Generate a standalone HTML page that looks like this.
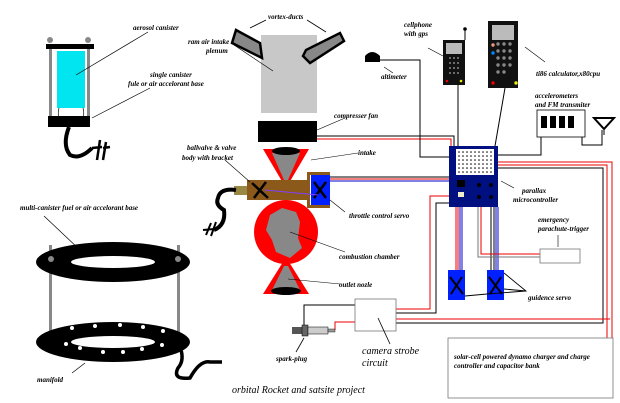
<!DOCTYPE html>
<html><head><meta charset="utf-8"><style>
html,body{margin:0;padding:0;background:#fff;}
svg{display:block}
text{font-family:"Liberation Serif",serif;font-style:italic;font-weight:bold;font-size:7px;fill:#000}
</style></head><body>
<svg width="620" height="403" viewBox="0 0 620 403" xmlns="http://www.w3.org/2000/svg">
<rect width="620" height="403" fill="#fff"/>
<!-- aerosol canister -->
<rect x="49" y="46" width="3" height="80" fill="#888"/>
<rect x="87" y="46" width="3" height="80" fill="#888"/>
<circle cx="50" cy="40" r="3" fill="#888"/><circle cx="88" cy="40" r="3" fill="#888"/>
<rect x="46" y="44" width="48" height="5" fill="#000"/>
<rect x="57" y="51" width="28" height="57" fill="#00e5f0"/>
<path d="M59 108 Q57 115 60 118 M83 108 Q85 115 82 118" stroke="#000" stroke-width="0.7" fill="none"/>
<rect x="48" y="116" width="42" height="11" fill="#000"/>
<path d="M69 127 Q62 145 70 155 Q80 160 92 148" stroke="#000" stroke-width="4" fill="none"/>
<path d="M92 148 L102 147 M100 140 L97 160 M106 142 L103 160 M103 148 L110 147" stroke="#000" stroke-width="2.5" fill="none"/>
<line x1="92" y1="118" x2="150" y2="88" stroke="#000" stroke-width="0.7"/>
<line x1="76" y1="75" x2="148" y2="32" stroke="#000" stroke-width="0.7"/>
<text x="133" y="30">aerosol canister</text>
<text x="150" y="77">single canister</text>
<text x="128" y="86">fule or air accelorant base</text>
<!-- rings -->
<rect x="49" y="245" width="3" height="95" fill="#888"/>
<rect x="177" y="245" width="3" height="95" fill="#888"/>
<ellipse cx="113" cy="262" rx="77" ry="20" fill="#000"/>
<ellipse cx="113" cy="262" rx="42" ry="6" fill="#fff"/>
<circle cx="51" cy="259" r="3" fill="#888"/><circle cx="178" cy="259" r="3" fill="#888"/>
<ellipse cx="113" cy="342" rx="77" ry="20" fill="#000"/>
<ellipse cx="113" cy="342" rx="42" ry="6" fill="#fff"/>
<g fill="#fff"><circle cx="72" cy="328" r="2"/><circle cx="95" cy="326" r="2"/><circle cx="120" cy="325" r="2"/><circle cx="143" cy="327" r="2"/><circle cx="163" cy="331" r="2"/><circle cx="162" cy="345" r="2"/><circle cx="142" cy="349" r="2"/><circle cx="123" cy="352" r="2"/><circle cx="103" cy="352" r="2"/><circle cx="80" cy="348" r="2"/><circle cx="66" cy="344" r="2"/></g>
<path d="M180 347 Q185 360 178 368 Q172 380 190 378 Q200 360 210 362 L222 362" stroke="#000" stroke-width="3.5" fill="none"/>
<line x1="44" y1="216" x2="80" y2="250" stroke="#000" stroke-width="0.7"/>
<line x1="72" y1="373" x2="85" y2="363" stroke="#000" stroke-width="0.7"/>
<text x="20" y="210">multi-canister fuel or air accelorant base</text>
<text x="37" y="382">manifold</text>
<!-- plenum -->
<rect x="261" y="35" width="56" height="78" fill="#c8c8c8"/>
<polygon points="236,30 260,43 262,58 232,43" fill="#888" stroke="#000" stroke-width="2.5"/>
<polygon points="303,56 306,50 340,33 344,41 310,63" fill="#888" stroke="#000" stroke-width="2.5"/>
<line x1="250" y1="28" x2="266" y2="20" stroke="#000" stroke-width="0.8"/>
<line x1="307" y1="20" x2="326" y2="32" stroke="#000" stroke-width="0.8"/>
<line x1="234" y1="45" x2="273" y2="71" stroke="#000" stroke-width="0.6"/>
<text x="268" y="19">vortex-ducts</text>
<text x="188" y="44">ram air intake</text>
<text x="206" y="53">plenum</text>
<rect x="258" y="121" width="59" height="21" fill="#000"/>
<line x1="317" y1="130" x2="345" y2="118" stroke="#000" stroke-width="0.6"/>
<text x="334" y="118">compresser fan</text>
<!-- engine -->
<polygon points="263,149 309,149 289,183 283,183" fill="#f00"/>
<polygon points="272,153 300,153 288,180 284,180" fill="#888"/>
<ellipse cx="286" cy="151" rx="14" ry="4" fill="#000"/>
<circle cx="286" cy="232" r="32" fill="#f00"/>
<path d="M270 215 L282 208 L296 212 L300 222 L298 238 L302 248 L290 258 L276 252 L272 240 L266 230 Z" fill="#888"/>
<polygon points="283,262 289,262 309,294 263,294" fill="#f00"/>
<polygon points="284,266 288,266 300,290 272,290" fill="#888"/>
<ellipse cx="286" cy="291" rx="15" ry="4" fill="#000"/>
<rect x="234" y="186" width="14" height="9" fill="#998844"/>
<rect x="247" y="180" width="63" height="20" fill="#8b5a1a"/>
<path d="M307 172 L330 172 L330 175 L310 175 L310 205 L330 205 L330 208 L307 208 Z" fill="#8b5a1a"/>
<rect x="311" y="175" width="19" height="30" fill="#0020ff"/>
<path d="M252 183 L268 198 M266 182 L254 198 M314 182 L326 198 M326 182 L314 198" stroke="#000" stroke-width="2.5"/>
<line x1="265" y1="190" x2="318" y2="195" stroke="#8040ff" stroke-width="1"/>
<path d="M236 190 Q220 188 218 198 Q215 205 224 210 Q226 225 214 230" stroke="#000" stroke-width="4" fill="none"/>
<path d="M206 235 L211 223 M203 230 L214 229 M211 236 L216 222" stroke="#000" stroke-width="2" fill="none"/>
<line x1="225" y1="160" x2="250" y2="182" stroke="#000" stroke-width="0.6"/>
<text x="187" y="150">ballvalve &amp; valve</text>
<text x="182" y="160">body with bracket</text>
<line x1="311" y1="160" x2="358" y2="153" stroke="#000" stroke-width="0.6"/>
<text x="358" y="155">intake</text>
<line x1="330" y1="200" x2="345" y2="212" stroke="#000" stroke-width="0.6"/>
<text x="349" y="218">throttle control servo</text>
<line x1="290" y1="232" x2="345" y2="252" stroke="#000" stroke-width="0.6"/>
<text x="339" y="259">combustion chamber</text>
<line x1="288" y1="279" x2="340" y2="284" stroke="#000" stroke-width="0.6"/>
<text x="339" y="287">outlet nozle</text>
<!-- wiring -->
<g fill="none" stroke-width="1">
<path d="M317 136 L454 136 L454 146" stroke="#000"/>
<path d="M317 139 L451 139 L451 146" stroke="#e00"/>
<path d="M330 177 L449 177" stroke="#000"/>
<path d="M330 179 L449 179" stroke="#e00"/>
<path d="M330 181 L449 181" stroke="#00c"/>
<path d="M380 60 L420 60 L420 157 L449 157" stroke="#000"/>
<path d="M458 85 L458 146" stroke="#000"/>
<path d="M505 88 L495 146" stroke="#000"/>
<path d="M498 155 L541 155 L541 137" stroke="#000"/>
<path d="M582 137 L582 145 L602 145 L602 130" stroke="#000"/>
<path d="M498 165 L607 165 L607 398" stroke="#e00"/>
<path d="M498 162 L612 162 L612 398" stroke="#e00"/>
<path d="M498 168 L603 168 L603 323 L396 323" stroke="#000"/>
<path d="M396 319 L610 319" stroke="#e00"/>
<path d="M449 196 L430 196 L430 309 L396 309" stroke="#e00"/>
<path d="M449 203 L436 203 L436 313 L396 313" stroke="#000"/>
<path d="M456 207 L456 270 M458 207 L458 270" stroke="#e00"/>
<path d="M460 207 L460 270 M462 207 L462 270" stroke="#00c"/>
<path d="M491 207 L491 270 M494 207 L494 270" stroke="#000"/>
<path d="M496 207 L496 270 M498 207 L498 270" stroke="#00c"/>
<path d="M478 207 L478 257 L540 257" stroke="#777"/>
<path d="M481 207 L481 254 L540 254" stroke="#e00"/>
<path d="M355 305 L304 305 L304 325" stroke="#000"/>
<path d="M355 322 L335 322 L335 330" stroke="#e00"/>
</g>
<!-- altimeter -->
<path d="M365 62 L365 56 Q372 48 380 56 L380 62 Z" fill="#000"/>
<line x1="384" y1="67" x2="393" y2="73" stroke="#000" stroke-width="0.6"/>
<text x="381" y="79">altimeter</text>
<!-- cellphone -->
<rect x="443" y="40" width="22" height="45" fill="#111"/>
<rect x="446" y="43" width="16" height="11" fill="#bbb"/>
<line x1="465" y1="40" x2="465" y2="30" stroke="#000"/><circle cx="465" cy="29" r="1.8" fill="#000"/>
<g fill="#888"><circle cx="450" cy="58" r="1"/><circle cx="454" cy="58" r="1"/><circle cx="458" cy="58" r="1"/><circle cx="450" cy="63" r="1"/><circle cx="454" cy="63" r="1"/><circle cx="458" cy="63" r="1"/><circle cx="450" cy="68" r="1"/><circle cx="454" cy="68" r="1"/><circle cx="458" cy="68" r="1"/><circle cx="450" cy="73" r="1"/><circle cx="454" cy="73" r="1"/><circle cx="458" cy="73" r="1"/></g>
<circle cx="447" cy="81" r="1.3" fill="#e00"/><circle cx="461" cy="81" r="1.3" fill="#ee0"/>
<line x1="428" y1="48" x2="443" y2="56" stroke="#000" stroke-width="0.6"/>
<text x="404" y="27">cellphone</text>
<text x="404" y="36">with gps</text>
<!-- calculator -->
<rect x="488" y="21" width="30" height="67" fill="#111"/>
<rect x="492" y="25" width="22" height="15" fill="#bbb"/>
<g fill="#888"><circle cx="498" cy="44" r="1.7"/><circle cx="504" cy="44" r="1.7"/><circle cx="510" cy="44" r="1.7"/><circle cx="498" cy="51" r="1.7"/><circle cx="504" cy="51" r="1.7"/><circle cx="510" cy="51" r="1.7"/><circle cx="498" cy="58" r="1.7"/><circle cx="504" cy="58" r="1.7"/><circle cx="510" cy="58" r="1.7"/><circle cx="498" cy="65" r="1.7"/><circle cx="504" cy="65" r="1.7"/><circle cx="510" cy="65" r="1.7"/><circle cx="498" cy="72" r="1.7"/><circle cx="504" cy="72" r="1.7"/></g>
<circle cx="493" cy="45" r="1.7" fill="#e97"/><circle cx="493" cy="53" r="1.7" fill="#08f"/>
<circle cx="493" cy="83" r="1.7" fill="#e00"/><circle cx="516" cy="83" r="1.7" fill="#ee0"/>
<line x1="525" y1="47" x2="545" y2="62" stroke="#000" stroke-width="0.6"/>
<text x="536" y="76">ti86 calculator,x80cpu</text>
<!-- accelerometer -->
<rect x="537" y="110" width="48" height="27" fill="#fff" stroke="#000" stroke-width="0.8"/>
<rect x="541" y="116" width="6" height="12" fill="#000"/><rect x="550" y="116" width="6" height="12" fill="#000"/><rect x="559" y="116" width="6" height="12" fill="#000"/><rect x="568" y="116" width="6" height="12" fill="#000"/>
<polygon points="594,118 614,118 604,129" fill="none" stroke="#000" stroke-width="2"/>
<line x1="604" y1="129" x2="604" y2="135" stroke="#000"/>
<text x="535" y="98">accelerometers</text>
<text x="535" y="107">and FM transmiter</text>
<!-- MCU -->
<rect x="449" y="146" width="49" height="61" fill="#001080"/>
<rect x="456" y="149" width="38" height="26" fill="#fff"/>
<g fill="#000">
<g id="r"><circle cx="459" cy="152" r="0.8"/><circle cx="463" cy="152" r="0.8"/><circle cx="467" cy="152" r="0.8"/><circle cx="471" cy="152" r="0.8"/><circle cx="475" cy="152" r="0.8"/><circle cx="479" cy="152" r="0.8"/><circle cx="483" cy="152" r="0.8"/><circle cx="487" cy="152" r="0.8"/><circle cx="491" cy="152" r="0.8"/></g>
<use href="#r" y="4"/><use href="#r" y="8"/><use href="#r" y="12"/><use href="#r" y="16"/><use href="#r" y="20"/>
</g>
<rect x="457" y="180" width="8" height="7" fill="#000"/>
<rect x="458" y="192" width="6" height="5" fill="#eec"/>
<circle cx="479" cy="185" r="2" fill="#000"/><circle cx="491" cy="185" r="2" fill="#000"/><circle cx="479" cy="197" r="2" fill="#000"/><circle cx="491" cy="197" r="2" fill="#000"/>
<line x1="501" y1="181" x2="514" y2="188" stroke="#000" stroke-width="0.6"/>
<text x="522" y="193">parallax</text>
<text x="513" y="202">microcontroller</text>
<!-- parachute -->
<text x="538" y="222">emergency</text>
<text x="538" y="231">parachute-trigger</text>
<line x1="558" y1="235" x2="558" y2="247" stroke="#000" stroke-width="0.6"/>
<rect x="540" y="249" width="40" height="14" fill="#fff" stroke="#777" stroke-width="0.8"/>
<!-- guidance servos -->
<rect x="448" y="270" width="17" height="30" fill="#0020ff"/>
<rect x="487" y="270" width="17" height="30" fill="#0020ff"/>
<path d="M450 277 L463 294 M462 277 L451 294 M489 277 L502 294 M501 277 L490 294" stroke="#000" stroke-width="2"/>
<path d="M465 296 L487 294 L526 291 L504 273 M504 289 L526 291" stroke="#000" stroke-width="0.9" fill="none"/>
<text x="528" y="300">guidence servo</text>
<!-- strobe -->
<rect x="355" y="299" width="41" height="32" fill="#fff" stroke="#777" stroke-width="0.8"/>
<line x1="378" y1="318" x2="390" y2="344" stroke="#000" stroke-width="0.8"/>
<text x="362" y="354" style="font-size:10px;font-weight:normal">camera strobe</text>
<text x="362" y="366" style="font-size:10px;font-weight:normal">circuit</text>
<!-- spark plug -->
<rect x="292" y="327" width="10" height="7" fill="#555"/>
<rect x="302" y="325" width="6" height="11" fill="#666" stroke="#000" stroke-width="0.5"/>
<rect x="308" y="327" width="20" height="7" fill="#ccc" stroke="#000" stroke-width="0.5"/>
<rect x="328" y="329" width="7" height="3" fill="#999" stroke="#000" stroke-width="0.4"/>
<line x1="304" y1="338" x2="296" y2="352" stroke="#000" stroke-width="0.8"/>
<text x="276" y="361">spark-plug</text>
<!-- solar -->
<rect x="448" y="338" width="165" height="60" fill="#fff" stroke="#777" stroke-width="0.8"/>
<text x="454" y="359">solar-cell powered dynamo charger and charge</text>
<text x="454" y="368">controller  and capacitor bank</text>
<text x="232" y="393" style="font-size:10px;font-weight:normal">orbital Rocket and satsite project</text>
</svg>
</body></html>
